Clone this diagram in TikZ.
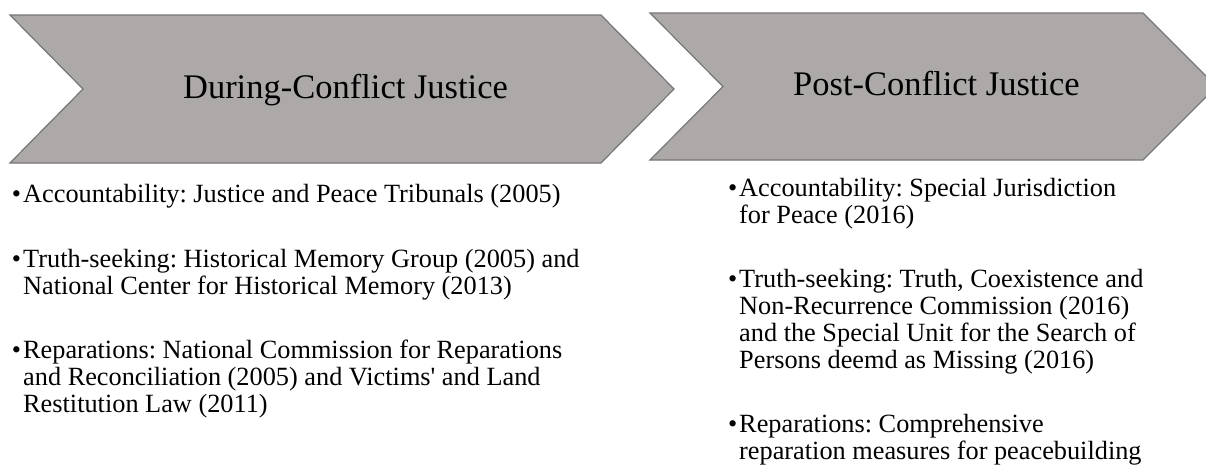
\documentclass[tikz,border=0pt]{standalone}
\usepackage{fontspec}
\setmainfont{Liberation Serif}[Ligatures=TeXOff]
\frenchspacing
\definecolor{chevfill}{RGB}{173,169,168}
\definecolor{chevline}{RGB}{118,118,118}
% one bullet paragraph, lines broken by hand, bullet hung in the margin
\newcommand\bulletpar[1]{\parbox[t]{600pt}{\raggedright\leavevmode\llap{\textbullet\hspace{2pt}}#1}}
\begin{document}
\begin{tikzpicture}[x=1pt,y=-1pt,
  chevron/.style={fill=chevfill,draw=chevline,line width=1.2pt,line join=miter},
  phase/.style={font=\fontsize{34.5}{40}\selectfont,anchor=base,inner sep=0pt},
  entry/.style={font=\fontsize{26.3}{27}\selectfont,anchor=base west,inner sep=0pt}]
\clip (0,0) rectangle (1206,467);
\fill[white] (0,0) rectangle (1206,467);

% phase arrows
\draw[chevron] (10,15) -- (601,15) -- (674,89) -- (601,163) -- (10,163) -- (83,89) -- cycle;
\draw[chevron] (650,13) -- (1143,13) -- (1216.5,86.5) -- (1143,160) -- (650,160) -- (723,86.5) -- cycle;

\node[phase] (during) at (345.5,98) {During-Conflict Justice};
\node[phase] (post) at (936.5,95) {Post-Conflict Justice};

% during-conflict mechanisms
\node[entry] (d1) at (23,202) {\bulletpar{Accountability: Justice and Peace Tribunals (2005)}};
\node[entry] (d2) at (23,267) {\bulletpar{Truth-seeking: Historical Memory Group (2005) and\\National Center for Historical Memory (2013)}};
\node[entry] (d3) at (23,358) {\bulletpar{Reparations: National Commission for Reparations\\and Reconciliation (2005) and Victims' and Land\\Restitution Law (2011)}};

% post-conflict mechanisms
\node[entry] (p1) at (739,196) {\bulletpar{Accountability: Special Jurisdiction\\for Peace (2016)}};
\node[entry] (p2) at (739,287) {\bulletpar{Truth-seeking: Truth, Coexistence and\\Non-Recurrence Commission (2016)\\and the Special Unit for the Search of\\Persons deemd as Missing (2016)}};
\node[entry] (p3) at (739,432) {\bulletpar{Reparations: Comprehensive\\reparation measures for peacebuilding}};
\end{tikzpicture}
\end{document}
